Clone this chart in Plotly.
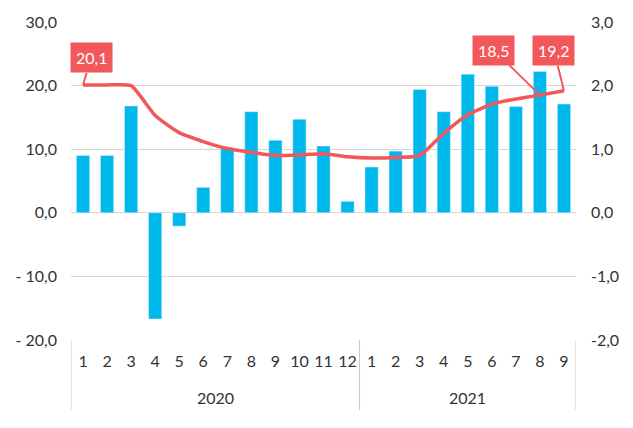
import plotly.graph_objects as go

years = ["2020"] * 12 + ["2021"] * 9
months = [str(m) for m in range(1, 13)] + [str(m) for m in range(1, 10)]
year_labels = ["2020", "2021"]

bar_values = [9.0, 9.0, 16.8, -16.7, -2.1, 4.0, 10.1, 15.9, 11.4, 14.7, 10.5, 1.8,
              7.2, 9.7, 19.4, 15.9, 21.8, 19.9, 16.7, 22.2, 17.1]
line_values = [20.1, 20.1, 20.0, 15.3, 12.6, 11.2, 10.1, 9.5, 9.0, 9.1, 9.3, 8.8,
               8.6, 8.7, 9.0, 12.5, 15.4, 17.1, 17.9, 18.5, 19.2]

left_ticks = [-20, -10, 0, 10, 20, 30]
left_labels = ["- 20,0", "- 10,0", "0,0", "10,0", "20,0", "30,0"]
right_ticks = [-2, -1, 0, 1, 2, 3]
right_labels = ["-2,0", "-1,0", "0,0", "1,0", "2,0", "3,0"]

# labelled points: (index, text, ax, ay)
callouts = [(0, "20,1", 8, -27), (19, "18,5", -46, -45), (20, "19,2", -10, -40)]

BLUE = "#00B9EC"
RED = "#F2575A"
GREY = "#c8c8c8"
FONT = "Lato"

cats = [f"{y}-{m}" for y, m in zip(years, months)]

fig = go.Figure()
fig.add_trace(go.Bar(x=cats, y=bar_values, marker_color=BLUE, width=0.55,
                     showlegend=False))
fig.add_trace(go.Scatter(x=cats, y=line_values, mode="lines",
                         line=dict(color=RED, width=3.5, shape="spline", smoothing=0.5),
                         showlegend=False))
fig.add_trace(go.Scatter(x=cats, y=[None] * len(cats), yaxis="y2",
                         showlegend=False, hoverinfo="skip"))

for i, txt, ax, ay in callouts:
    fig.add_annotation(x=cats[i], y=line_values[i], text=txt,
                       showarrow=True, ax=ax, ay=ay, arrowhead=0, arrowwidth=2,
                       arrowcolor=RED, standoff=0, bgcolor=RED, borderpad=5,
                       font=dict(color="white", size=16, family=FONT))

# year row under the month labels, with group dividers
edges = [-0.5]
for yl in year_labels:
    idx = [i for i, y in enumerate(years) if y == yl]
    fig.add_annotation(x=(idx[0] + idx[-1]) / 2, y=-0.182, yref="paper",
                       text=yl, showarrow=False, yanchor="middle",
                       font=dict(size=16, color="#333333"))
    edges.append(idx[-1] + 0.5)
for e in edges:
    fig.add_shape(type="line", x0=e, x1=e, y0=0, y1=-0.22, yref="paper",
                  line=dict(color=GREY, width=1))

fig.update_layout(
    width=617, height=412,
    margin=dict(l=63, r=49, t=14, b=80),
    plot_bgcolor="white", paper_bgcolor="white",
    font=dict(family=FONT, size=16, color="#333333"),
    xaxis=dict(type="category", tickvals=cats, ticktext=months, tickangle=0,
               showline=False, automargin=False, ticks="",
               ticklabelstandoff=10, range=[-0.5, len(cats) - 0.5]),
    yaxis=dict(range=[-20, 30], tickvals=left_ticks, ticktext=left_labels,
               showgrid=True, gridcolor="#d6d6d6", zeroline=False,
               automargin=False, ticks="", ticklabelstandoff=13),
    yaxis2=dict(range=[-2, 3], tickvals=right_ticks, ticktext=right_labels,
                overlaying="y", side="right", showgrid=False, zeroline=False,
                automargin=False, ticklabelstandoff=14),
)

fig.write_html("out.html")
